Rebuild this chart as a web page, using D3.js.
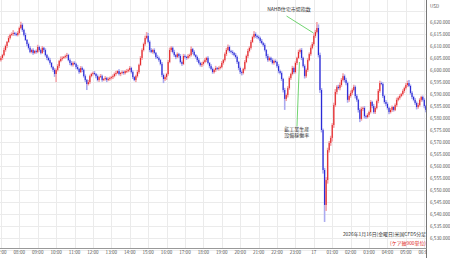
<!DOCTYPE html>
<html>
<head>
<meta charset="utf-8">
<script src="https://cdn.jsdelivr.net/npm/d3@7"></script>
<style>
  html, body { margin: 0; padding: 0; background: #fff; }
  svg { display: block; font-family: "Noto Sans CJK JP", "Noto Sans", sans-serif; }
</style>
</head>
<body>
<div id="chart"></div>
<script>
// 5 minute candles, first one at 07:00 on Jan 16
const startTime = new Date(2026, 0, 16, 7, 0);
const firstOpen = 6604.3;
const closes = [
  6605.2,6606.4,6608.5,6610.2,6611.9,6613.5,6614.8,6615.2,6615.6,6615.2,6614.8,6615.6,
  6617.7,6619.0,6616.9,6614.8,6612.7,6611.0,6609.4,6607.7,6608.5,6607.3,6608.1,6607.7,
  6609.8,6608.5,6607.3,6609.4,6608.5,6606.4,6605.2,6604.3,6603.1,6601.4,6600.2,6598.5,
  6600.2,6601.8,6603.9,6604.8,6605.2,6605.6,6606.0,6606.4,6604.3,6603.1,6602.3,6603.1,
  6602.7,6601.4,6600.6,6599.3,6601.0,6600.2,6597.6,6596.0,6594.3,6595.1,6597.6,6598.5,
  6598.9,6598.5,6597.6,6596.0,6597.2,6597.6,6596.0,6596.4,6596.8,6596.0,6596.4,6596.8,
  6597.2,6597.6,6598.5,6598.9,6599.7,6598.5,6598.9,6599.3,6598.9,6599.7,6599.7,6600.2,
  6601.0,6599.3,6597.2,6596.0,6597.6,6599.3,6602.3,6605.2,6608.5,6611.0,6613.5,6614.4,
  6611.9,6608.5,6607.7,6608.5,6607.3,6605.6,6605.2,6604.3,6602.7,6598.1,6596.4,6597.2,
  6598.5,6603.5,6608.5,6609.4,6607.7,6606.4,6605.6,6606.8,6606.0,6603.5,6602.7,6606.0,
  6605.6,6605.2,6606.0,6606.4,6608.9,6607.7,6606.4,6605.6,6604.3,6603.1,6602.3,6602.7,
  6603.5,6604.3,6605.2,6603.1,6601.8,6600.6,6599.3,6600.2,6601.0,6600.6,6601.0,6601.4,
  6603.1,6604.3,6606.8,6608.5,6609.8,6608.1,6607.7,6607.3,6606.4,6605.6,6603.5,6601.0,
  6599.3,6598.9,6600.6,6603.5,6606.0,6608.1,6609.4,6611.9,6613.9,6615.2,6614.4,6613.9,
  6613.5,6612.3,6611.4,6610.6,6608.5,6606.0,6604.3,6605.2,6604.3,6603.1,6603.9,6603.5,
  6601.8,6599.7,6598.9,6596.4,6591.8,6588.1,6589.7,6592.6,6596.8,6598.5,6601.0,6599.3,
  6603.1,6605.2,6607.7,6608.5,6605.2,6601.8,6597.6,6600.2,6604.3,6606.8,6609.4,6611.0,
  6614.4,6616.0,6617.7,6606.4,6591.8,6575.1,6558.4,6543.8,6554.2,6566.7,6569.7,6571.8,
  6577.2,6585.5,6591.0,6593.1,6592.6,6593.9,6596.0,6597.6,6596.0,6594.7,6587.7,6589.3,
  6590.6,6591.8,6593.1,6589.3,6587.7,6583.5,6579.7,6583.9,6584.3,6580.9,6580.5,6581.4,
  6582.6,6586.8,6585.1,6582.6,6584.3,6587.2,6591.4,6594.7,6594.3,6589.3,6586.8,6586.0,
  6584.3,6582.6,6583.5,6584.7,6583.5,6585.5,6587.7,6588.5,6589.3,6590.1,6591.4,6592.6,
  6593.9,6594.7,6593.5,6590.6,6588.9,6587.7,6586.4,6584.7,6585.5,6587.7,6588.9,6587.7,
  6585.1,6583.5
];
// how far each wick reaches past the body
const wickUp = [
  .8,.5,1,.6,.4,.9,.5,.7,1.2,.5,.6,.8,
  .6,1.3,.7,.5,.9,.4,.6,.8,.5,.7,.4,.6,
  .9,.5,.6,.8,.4,.7,.5,.6,.9,.4,.5,.7,
  .6,.8,.5,1,.7,.4,.6,.9,.5,.7,.8,.6,
  .7,.5,.9,.4,.8,.6,.5,.7,.4,.9,.6,.5,
  .6,.8,.4,.7,.5,.9,.6,.4,.8,.5,.7,.6,
  .5,.7,.6,.9,.4,.8,.5,.7,.6,.4,.9,.5,
  .8,.5,.7,.4,.6,.9,.5,.8,.7,.6,1,1.6,
  1.2,.6,.8,.5,.7,.4,.9,.6,.5,.8,.6,.7,
  .5,.8,1,.7,.6,.9,.4,.7,.5,.8,.6,.9,
  .7,.5,.8,.6,1.1,.5,.7,.4,.6,.8,.5,.7,
  .6,.9,.5,.7,.4,.8,.6,.5,.9,.4,.7,.6,
  .8,.5,.7,.9,1,.6,.5,.7,.4,.8,.6,.5,
  .6,.7,.5,.8,.6,.9,.7,.8,.6,1.2,.7,.5,
  .7,.6,.8,.5,.7,.4,.9,.6,.5,.8,.6,.7,
  .5,.8,.6,.7,.5,.9,.6,.8,.7,.5,.9,.6,
  .7,.5,.9,.6,.8,.5,.7,.6,.9,.7,1,.8,
  1,.9,2.5,1.5,1,.8,.6,.9,1.2,1,.8,.9,
  .8,1,1.2,.7,.9,1.1,.8,1.2,.7,.9,.6,.8,
  1,.7,.9,.6,.8,.5,.7,.9,.6,.8,.5,.7,
  .6,.8,.5,.9,.7,.6,.8,1,.6,.7,.5,.8,
  .7,.5,.8,.6,.4,.7,.9,.6,.8,.5,.7,.6,
  .8,1,1.3,.6,.7,.5,.8,.6,.9,.7,.5,.6,
  .7,.5
];
const wickDn = [
  .6,.8,.5,.7,.9,.4,.6,.5,.8,.7,.5,.6,
  .7,.5,.8,.6,.4,.9,.7,.5,.6,.8,.5,.7,
  .5,.7,.6,.4,.8,.6,.9,.5,.7,.6,.8,1.2,
  3.4,.6,.8,.5,.7,.4,.6,.8,.5,.9,.6,.7,
  .5,.8,.6,.7,.4,.9,.6,.8,2.5,.6,.7,.5,
  .7,.5,.9,.6,.8,.4,.7,.5,.6,.9,.5,.7,
  .6,.8,.5,.7,.4,.6,.9,.5,.7,.6,.8,.5,
  .7,.6,.8,.5,.9,.6,.7,.5,.8,.6,.7,.5,
  .6,.9,.5,.7,.6,.8,.5,.7,.6,.9,1.7,.8,
  1.2,.7,.5,.8,.6,.7,.9,.5,.7,.6,.8,.5,
  .6,.8,.5,.7,.6,.9,.5,.7,.8,.6,.7,.9,
  .7,.5,.8,.6,.9,.5,.7,.6,.8,.5,.7,.6,
  .5,.7,.6,.8,.5,.7,.6,.9,.5,.7,.8,.9,
  .8,1,.6,.7,.5,.8,.6,.7,.5,.6,.8,.7,
  .6,.8,.5,.7,.6,.9,.7,.5,.8,.6,.7,.5,
  .7,.9,.6,.8,1,4.6,.9,1,.7,.8,.6,.7,
  .6,.8,.5,.7,.9,.6,1,.7,.8,.5,.7,.6,
  .7,.8,.6,1,1.2,1,1.5,7.1,2.5,1.5,1,1.2,
  1.5,1.2,.8,1,.7,.9,.8,.6,1,.9,1.2,.8,
  .7,.9,.6,1,.8,1.1,1.3,.7,.9,1,.8,.6,
  .8,.6,.9,.7,.8,.6,.9,.7,.5,.8,.7,.9,
  .7,.9,.6,.8,.7,.5,.8,.6,.7,.5,.6,.8,
  .6,.8,.5,.7,.9,.6,.8,1,.7,.6,.8,.7,
  .9,1
];

const priceTicks = d3.range(6530, 6621, 5);
const gridPrices = d3.range(6525, 6631, 5);
const hourTicks = d3.range(0, 24).map(h => new Date(2026, 0, 16, 7 + h, 0));

const noteLines = [["NAHB住宅市場指数"], ["鉱工業生産", "設備稼働率"]];
const noteTextAt = [[new Date(2026, 0, 16, 22, 39), 6624.6], [new Date(2026, 0, 16, 23, 4), 6574.6]];
const noteFrom = [[new Date(2026, 0, 16, 22, 31), 6622.7], [new Date(2026, 0, 16, 23, 5), 6576.6]];
const noteTo = [[new Date(2026, 0, 16, 23, 59), 6615.6], [new Date(2026, 0, 16, 23, 13), 6603.5]];

const titleText = "2026年1月16日(金曜日)米国CFD5分足";
const subText = "(ケア軸900単位)";

const width = 450, height = 258;
const plotRight = 426.5, axisY = 248.5;

const svg = d3.select("#chart").append("svg")
  .attr("width", width)
  .attr("height", height);

svg.append("defs").append("clipPath")
  .attr("id", "plot")
  .append("rect")
  .attr("x", 0).attr("y", 0)
  .attr("width", plotRight).attr("height", height);

const x = d3.scaleTime()
  .domain([new Date(2026, 0, 16, 7), new Date(2026, 0, 17, 6)])
  .range([0.9, 424.3]);
const y = d3.scaleLinear()
  .domain([6530, 6620])
  .range([238, 22.5]);

const data = closes.map((c, i) => {
  const o = i ? closes[i - 1] : firstOpen;
  return {
    t: d3.timeMinute.offset(startTime, 5 * i),
    o: o, c: c,
    h: Math.max(o, c) + wickUp[i],
    l: Math.min(o, c) - wickDn[i]
  };
});

const plot = svg.append("g").attr("clip-path", "url(#plot)");

// grid
plot.append("g").selectAll("line")
  .data(hourTicks)
  .enter().append("line")
  .attr("x1", d => Math.round(x(d)) + 0.5)
  .attr("x2", d => Math.round(x(d)) + 0.5)
  .attr("y1", 0).attr("y2", axisY)
  .attr("stroke", "#ebebeb").attr("stroke-width", 1);

plot.append("g").selectAll("line")
  .data(gridPrices)
  .enter().append("line")
  .attr("x1", 0).attr("x2", plotRight)
  .attr("y1", d => Math.round(y(d)) + 0.5)
  .attr("y2", d => Math.round(y(d)) + 0.5)
  .attr("stroke", "#ebebeb").attr("stroke-width", 1);

// candles
const candles = plot.append("g");
candles.selectAll("rect.wick")
  .data(data)
  .enter().append("rect")
  .attr("class", "wick")
  .attr("x", d => x(d.t) - 0.8)
  .attr("width", 1.6)
  .attr("y", d => y(d.h))
  .attr("height", d => y(d.l) - y(d.h))
  .attr("fill", d => d.c >= d.o ? "#f3a4aa" : "#aaaaf0");

candles.selectAll("rect.body")
  .data(data)
  .enter().append("rect")
  .attr("class", "body")
  .attr("x", d => x(d.t) - 0.55)
  .attr("width", 1.1)
  .attr("y", d => y(Math.max(d.o, d.c)))
  .attr("height", d => Math.max(0.7, Math.abs(y(d.o) - y(d.c))))
  .attr("fill", d => d.c >= d.o ? "#e42a2a" : "#2b2bd6");

// annotations
const notes = svg.append("g");
noteLines.forEach((lines, k) => {
  notes.append("line")
    .attr("x1", x(noteFrom[k][0])).attr("y1", y(noteFrom[k][1]))
    .attr("x2", x(noteTo[k][0])).attr("y2", y(noteTo[k][1]))
    .attr("stroke", "#4cc94c").attr("stroke-width", 0.8);
  const tx = x(noteTextAt[k][0]), ty = y(noteTextAt[k][1]);
  lines.forEach((s, j) => {
    notes.append("text")
      .attr("x", tx).attr("y", ty + j * 5.5)
      .attr("text-anchor", "middle")
      .attr("font-size", 5)
      .attr("fill", "#333")
      .text(s);
  });
});

// right price axis
svg.append("line")
  .attr("x1", plotRight).attr("x2", plotRight)
  .attr("y1", 0).attr("y2", height)
  .attr("stroke", "#777").attr("stroke-width", 1);

svg.append("g").selectAll("text")
  .data(priceTicks)
  .enter().append("text")
  .attr("x", 430)
  .attr("y", d => y(d))
  .attr("dy", "0.35em")
  .attr("font-size", 4.6)
  .attr("fill", "#555")
  .text(d => d3.format(",.3f")(d));

svg.append("text")
  .attr("x", 430).attr("y", 7.5)
  .attr("font-size", 4.6)
  .attr("fill", "#555")
  .text("USD");

// bottom time axis
svg.append("line")
  .attr("x1", 0).attr("x2", plotRight)
  .attr("y1", axisY).attr("y2", axisY)
  .attr("stroke", "#999").attr("stroke-width", 1);

const fmtHour = d3.timeFormat("%H:%M");
svg.append("g").attr("clip-path", "url(#plot)")
  .selectAll("text")
  .data(hourTicks)
  .enter().append("text")
  .attr("x", d => x(d))
  .attr("y", 253.8)
  .attr("text-anchor", "middle")
  .attr("font-size", 4.6)
  .attr("fill", "#555")
  .text(d => d.getHours() === 0 ? String(d.getDate()) : fmtHour(d));

// caption
svg.append("text")
  .attr("x", 426).attr("y", 235.5)
  .attr("text-anchor", "end")
  .attr("font-size", 4.9)
  .attr("fill", "#333")
  .text(titleText);

svg.append("text")
  .attr("x", 426).attr("y", 244.5)
  .attr("text-anchor", "end")
  .attr("font-size", 4.9)
  .attr("fill", "#e02020")
  .text(subText);
</script>
</body>
</html>
